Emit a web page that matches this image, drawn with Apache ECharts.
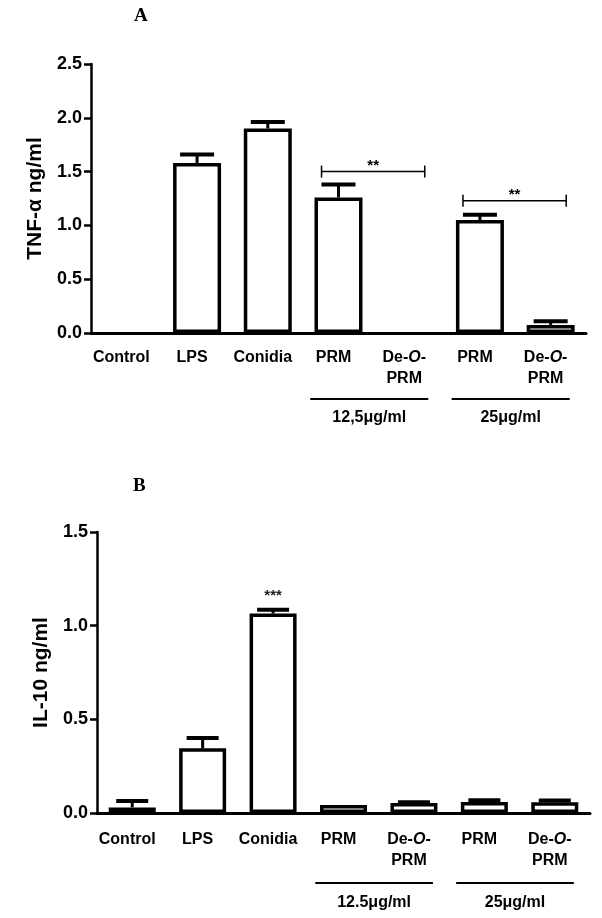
<!DOCTYPE html>
<html><head><meta charset="utf-8">
<script src="https://cdn.jsdelivr.net/npm/echarts@6/dist/echarts.min.js"></script>
<style>html,body{margin:0;padding:0;background:#fff}#c{width:602px;height:918px}</style>
</head><body><div id="c"></div>
<script>
// ---- data ----
const categories = ['Control', 'LPS', 'Conidia', 'PRM', 'De-O-\nPRM', 'PRM', 'De-O-\nPRM'];
const tnfMean   = [0, 1.58, 1.90, 1.26, 0, 1.05, 0.075];
const tnfErrTop = [0, 1.66, 1.96, 1.38, 0, 1.10, 0.11];
const il10Mean   = [0.03, 0.345, 1.065, 0.043, 0.053, 0.059, 0.058];
const il10ErrTop = [0.064, 0.40, 1.085, 0.043, 0.058, 0.068, 0.067];
const yMaxA = 2.5, yMaxB = 1.5, yStep = 0.5;
const bracketFromA = [3, 5];
const bracketToA   = [4, 6];
const bracketYA    = [1.5, 1.23];
const bracketTextA = ['**', '**'];
const sigIndexB = [2];
const sigTextB  = ['***'];
const groupFrom = [3, 5];
const groupTo   = [4, 6];
const groupLabelsA = ['12,5\u03bcg/ml', '25\u03bcg/ml'];
const groupLabelsB = ['12.5\u03bcg/ml', '25\u03bcg/ml'];
const yNameA = 'TNF-\u03b1 ng/ml';
const yNameB = 'IL-10 ng/ml';

// ---- styling / rendering ----
const FONT = '"Liberation Sans", Arial, sans-serif';
const chart = echarts.init(document.getElementById('c'), null, {renderer: 'canvas'});

function xAxisCfg(gridIndex, margin) {
  return {
    type: 'category', gridIndex, data: categories, boundaryGap: true,
    axisLine: {lineStyle: {color: '#000', width: 3}},
    axisTick: {alignWithLabel: true, length: 8, lineStyle: {color: '#000', width: 2.5}},
    axisLabel: {
      interval: 0, margin, color: '#000', fontFamily: FONT, fontWeight: 'bold', fontSize: 16,
      lineHeight: 21, padding: [0, 10, 0, 0],
      formatter: v => v.replace('-O-', '-{i|O}-'),
      rich: {i: {fontStyle: 'italic', fontWeight: 'bold', fontSize: 16, fontFamily: FONT, color: '#000', lineHeight: 21}}
    }
  };
}
function yAxisCfg(gridIndex, max, name, nameGap) {
  return {
    type: 'value', gridIndex, min: 0, max, interval: yStep,
    name, nameLocation: 'middle', nameGap,
    nameTextStyle: {color: '#000', fontFamily: FONT, fontWeight: 'bold', fontSize: 21},
    splitLine: {show: false},
    axisLine: {show: true, lineStyle: {color: '#000', width: 2.5}},
    axisTick: {show: true, length: 7, lineStyle: {color: '#000', width: 2.5}},
    axisLabel: {color: '#000', fontFamily: FONT, fontWeight: 'bold', fontSize: 18, margin: 9,
      formatter: v => v.toFixed(1)}
  };
}
function barData(values) {
  // zero-height bars are not drawn in the original
  return values.map(v => v > 0 ? v : {value: v, itemStyle: {borderWidth: 0, color: 'rgba(0,0,0,0)'}});
}
function errRender(capHalf, lw) {
  return function (params, api) {
    const i = api.value(0), mean = api.value(1), top = api.value(2);
    if (!(top > mean)) return null;
    const p1 = api.coord([i, mean]);
    const p2 = api.coord([i, top]);
    return {type: 'group', children: [
      {type: 'line', shape: {x1: p1[0], y1: p1[1], x2: p2[0], y2: p2[1]}, style: {stroke: '#000', lineWidth: lw}},
      {type: 'line', shape: {x1: p2[0] - capHalf, y1: p2[1], x2: p2[0] + capHalf, y2: p2[1]}, style: {stroke: '#000', lineWidth: lw + 1}}
    ]};
  };
}
function groupRender(labels, lineOff, textOff) {
  return function (params, api) {
    const a = api.value(0), b = api.value(1);
    const band = api.size([1, 0])[0];
    const p0 = api.coord([a, 0]), p1 = api.coord([b, 0]);
    const x1 = p0[0] - 0.4 * band, x2 = p1[0] + 0.27 * band;
    return {type: 'group', children: [
      {type: 'line', shape: {x1, y1: p0[1] + lineOff, x2, y2: p0[1] + lineOff}, style: {stroke: '#000', lineWidth: 2}},
      {type: 'text', x: (x1 + x2) / 2, y: p0[1] + textOff,
        style: {text: labels[params.dataIndex], fill: '#000', font: 'bold 16px ' + FONT, align: 'center', verticalAlign: 'middle'}}
    ]};
  };
}

const option = {
  backgroundColor: '#fff',
  animation: false,
  graphic: [
    {type: 'text', left: 134, top: 7, style: {text: 'A', fill: '#000', font: 'bold 19px "Liberation Serif", "Times New Roman", serif'}},
    {type: 'text', left: 133, top: 477, style: {text: 'B', fill: '#000', font: 'bold 19px "Liberation Serif", "Times New Roman", serif'}}
  ],
  grid: [
    {left: 91, top: 64, width: 495, height: 269},
    {left: 97, top: 532, width: 493, height: 281}
  ],
  xAxis: [xAxisCfg(0, 14), xAxisCfg(1, 16)],
  yAxis: [yAxisCfg(0, yMaxA, yNameA, 44), yAxisCfg(1, yMaxB, yNameB, 45)],
  series: [
    {type: 'bar', xAxisIndex: 0, yAxisIndex: 0, data: barData(tnfMean), barWidth: 48,
      itemStyle: {color: '#fff', borderColor: '#000', borderWidth: 3.5}},
    {type: 'custom', xAxisIndex: 0, yAxisIndex: 0, clip: false, z: 5,
      renderItem: errRender(17, 3),
      data: tnfMean.map((m, i) => [i, m, tnfErrTop[i]])},
    {type: 'custom', xAxisIndex: 0, yAxisIndex: 0, clip: false, z: 5,
      renderItem: function (params, api) {
        const a = api.value(0), b = api.value(1), y = api.value(2);
        const band = api.size([1, 0])[0];
        const pA = api.coord([a, y]), pB = api.coord([b, y]);
        const x1 = pA[0] - 0.24 * band, x2 = pB[0] + 0.22 * band, yy = pA[1];
        return {type: 'group', children: [
          {type: 'line', shape: {x1, y1: yy, x2, y2: yy}, style: {stroke: '#000', lineWidth: 1.5}},
          {type: 'line', shape: {x1, y1: yy - 6, x2: x1, y2: yy + 6}, style: {stroke: '#000', lineWidth: 1.5}},
          {type: 'line', shape: {x1: x2, y1: yy - 6, x2, y2: yy + 6}, style: {stroke: '#000', lineWidth: 1.5}},
          {type: 'text', x: (x1 + x2) / 2, y: yy - 6,
            style: {text: bracketTextA[params.dataIndex], fill: '#000', font: 'bold 15px ' + FONT, align: 'center', verticalAlign: 'middle'}}
        ]};
      },
      data: bracketFromA.map((f, i) => [f, bracketToA[i], bracketYA[i]])},
    {type: 'custom', xAxisIndex: 0, yAxisIndex: 0, clip: false, z: 5,
      renderItem: groupRender(groupLabelsA, 66, 85),
      data: groupFrom.map((f, i) => [f, groupTo[i]])},

    {type: 'bar', xAxisIndex: 1, yAxisIndex: 1, data: barData(il10Mean), barWidth: 47,
      itemStyle: {color: '#fff', borderColor: '#000', borderWidth: 3.5}},
    {type: 'custom', xAxisIndex: 1, yAxisIndex: 1, clip: false, z: 5,
      renderItem: errRender(16, 3),
      data: il10Mean.map((m, i) => [i, m, il10ErrTop[i]])},
    {type: 'custom', xAxisIndex: 1, yAxisIndex: 1, clip: false, z: 5,
      renderItem: function (params, api) {
        const idx = api.value(0);
        const p = api.coord([idx, il10ErrTop[idx]]);
        return {type: 'text', x: p[0], y: p[1] - 14,
          style: {text: sigTextB[params.dataIndex], fill: '#222', font: 'bold 15px ' + FONT, align: 'center', verticalAlign: 'middle'}};
      },
      data: sigIndexB.map(i => [i])},
    {type: 'custom', xAxisIndex: 1, yAxisIndex: 1, clip: false, z: 5,
      renderItem: groupRender(groupLabelsB, 70, 90),
      data: groupFrom.map((f, i) => [f, groupTo[i]])}
  ]
};
chart.setOption(option);
</script>
</body></html>
